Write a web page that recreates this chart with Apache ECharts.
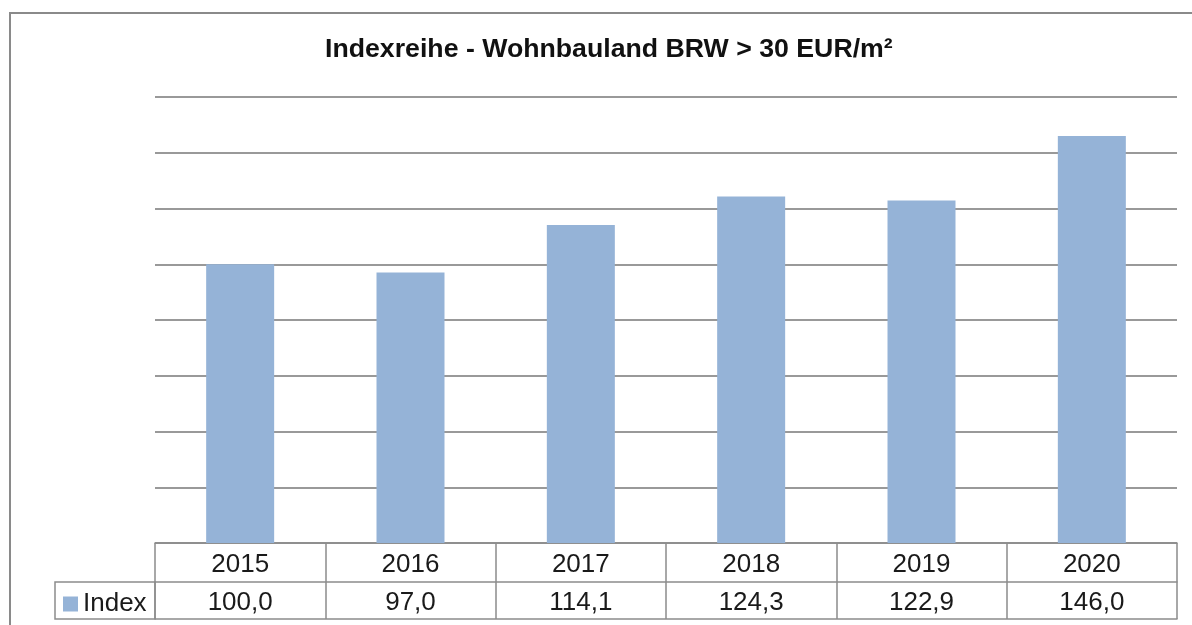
<!DOCTYPE html>
<html><head><meta charset="utf-8">
<script src="https://cdn.jsdelivr.net/npm/echarts@6/dist/echarts.min.js"></script>
<style>html,body{margin:0;padding:0;background:#fff}#c{width:1192px;height:625px}</style>
</head><body><div id="c"></div>
<script>
const titleText = 'Indexreihe - Wohnbauland BRW > 30 EUR/m²';
const categories = ['2015','2016','2017','2018','2019','2020'];
const seriesName = 'Index';
const values = [100.0, 97.0, 114.1, 124.3, 122.9, 146.0];
const valueLabels = values.map(v => v.toFixed(1).replace('.', ','));

const chart = echarts.init(document.getElementById('c'));
const lineColor = '#8c8c8c';
const font = 'Liberation Sans, Arial, sans-serif';
chart.setOption({
  animation: false,
  backgroundColor: '#fff',
  title: {
    text: titleText, left: 320, top: 31,
    textStyle: {fontFamily: font, fontSize: 26.7, fontWeight: 'bold', color: '#111'}
  },
  legend: {
    left: 58, top: 586, itemWidth: 15, itemHeight: 15, itemGap: 6,
    icon: 'rect',
    textStyle: {fontFamily: font, fontSize: 26, color: '#1a1a1a', padding: [0,0,0,0]},
    data: [seriesName]
  },
  graphic: [
    {type: 'rect', shape: {x: 10, y: 13, width: 1200, height: 640},
     style: {fill: 'none', stroke: '#8a8a8a', lineWidth: 2}, z: -1},
    {type: 'rect', shape: {x: 55, y: 582, width: 100, height: 37},
     style: {fill: 'none', stroke: lineColor, lineWidth: 1.5}}
  ],
  grid: {left: 155, right: 15, top: 97, bottom: 82},
  xAxis: [
    {type: 'category', data: categories, position: 'bottom',
     axisLine: {show: true, lineStyle: {color: lineColor, width: 1.5}},
     axisTick: {show: true, length: 76, lineStyle: {color: lineColor, width: 1.5}},
     axisLabel: {margin: 9, fontFamily: font, fontSize: 26, color: '#1a1a1a'}},
    {type: 'category', data: valueLabels, position: 'bottom', offset: 39,
     axisLine: {show: true, lineStyle: {color: lineColor, width: 1.5}},
     axisTick: {show: false},
     axisLabel: {margin: 8, fontFamily: font, fontSize: 26, color: '#1a1a1a'}},
    {type: 'category', data: categories, position: 'bottom', offset: 76,
     axisLine: {show: true, lineStyle: {color: lineColor, width: 1.5}},
     axisTick: {show: false}, axisLabel: {show: false}}
  ],
  yAxis: {
    type: 'value', min: 0, max: 160, interval: 20,
    axisLine: {show: false}, axisTick: {show: false}, axisLabel: {show: false},
    splitLine: {lineStyle: {color: '#999', width: 2}}
  },
  series: [{
    name: seriesName, type: 'bar', data: values, barWidth: 68,
    itemStyle: {color: '#95b3d7'}
  }]
});
</script></body></html>
